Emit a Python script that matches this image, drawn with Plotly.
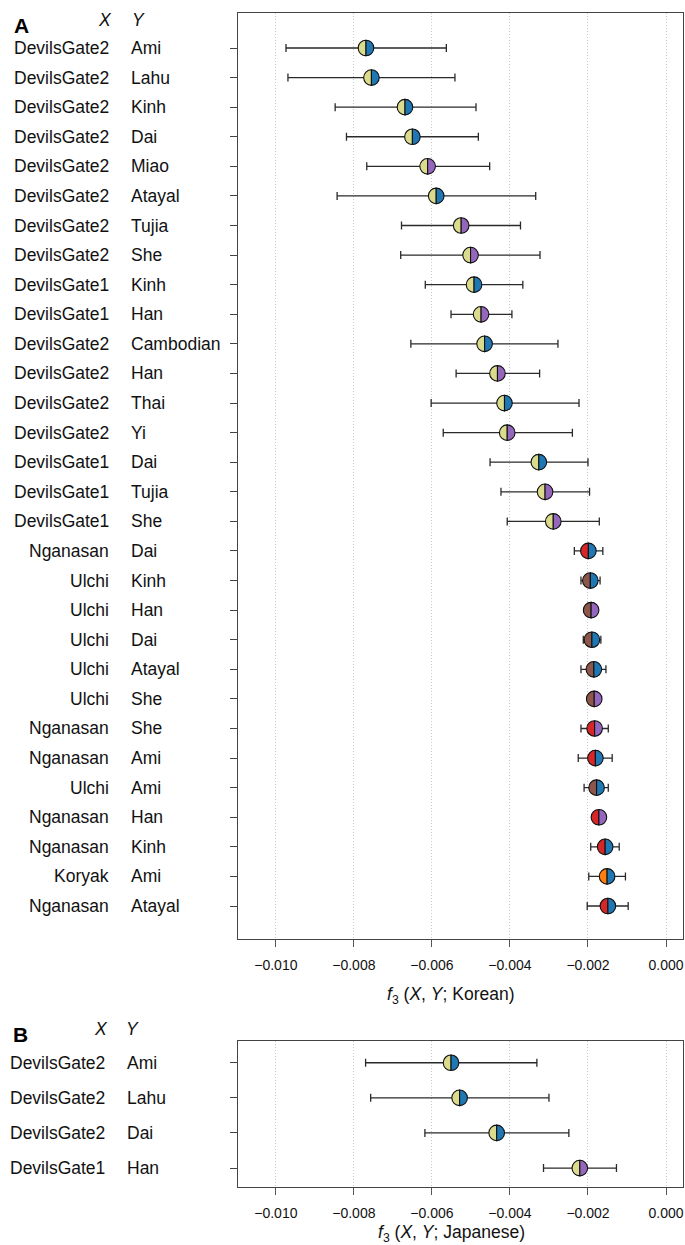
import plotly.graph_objects as go

# ---------------- data ----------------
X_A = ["DevilsGate2", "DevilsGate2", "DevilsGate2", "DevilsGate2", "DevilsGate2",
       "DevilsGate2", "DevilsGate2", "DevilsGate2", "DevilsGate1", "DevilsGate1",
       "DevilsGate2", "DevilsGate2", "DevilsGate2", "DevilsGate2", "DevilsGate1",
       "DevilsGate1", "DevilsGate1", "Nganasan", "Ulchi", "Ulchi",
       "Ulchi", "Ulchi", "Ulchi", "Nganasan", "Nganasan",
       "Ulchi", "Nganasan", "Nganasan", "Koryak", "Nganasan"]
Y_A = ["Ami", "Lahu", "Kinh", "Dai", "Miao",
       "Atayal", "Tujia", "She", "Kinh", "Han",
       "Cambodian", "Han", "Thai", "Yi", "Dai",
       "Tujia", "She", "Dai", "Kinh", "Han",
       "Dai", "Atayal", "She", "She", "Ami",
       "Ami", "Han", "Kinh", "Ami", "Atayal"]
f3_A = [-0.00769, -0.00755, -0.00669, -0.00650, -0.00611,
        -0.00589, -0.00525, -0.00501, -0.00492, -0.00474,
        -0.00465, -0.00432, -0.00414, -0.00407, -0.00326,
        -0.00310, -0.00289, -0.00199, -0.00194, -0.00192,
        -0.00190, -0.00185, -0.00184, -0.00183, -0.00181,
        -0.00178, -0.00172, -0.00156, -0.00151, -0.00149]
lo_A = [-0.00974, -0.00969, -0.00848, -0.00819, -0.00767,
        -0.00843, -0.00678, -0.00680, -0.00617, -0.00551,
        -0.00654, -0.00538, -0.00602, -0.00571, -0.00451,
        -0.00423, -0.00407, -0.00235, -0.00218, -0.00202,
        -0.00212, -0.00218, -0.00194, -0.00218, -0.00225,
        -0.00210, -0.00182, -0.00193, -0.00198, -0.00202]
hi_A = [-0.00563, -0.00541, -0.00487, -0.00481, -0.00452,
        -0.00334, -0.00373, -0.00323, -0.00367, -0.00395,
        -0.00277, -0.00324, -0.00223, -0.00240, -0.00200,
        -0.00196, -0.00171, -0.00162, -0.00169, -0.00182,
        -0.00167, -0.00154, -0.00174, -0.00148, -0.00138,
        -0.00148, -0.00162, -0.00120, -0.00104, -0.00097]

X_B = ["DevilsGate2", "DevilsGate2", "DevilsGate2", "DevilsGate1"]
Y_B = ["Ami", "Lahu", "Dai", "Han"]
f3_B = [-0.00551, -0.00529, -0.00434, -0.00221]
lo_B = [-0.00770, -0.00757, -0.00618, -0.00314]
hi_B = [-0.00331, -0.00300, -0.00249, -0.00127]

x_ticks = [-0.010, -0.008, -0.006, -0.004, -0.002, 0.000]

pop_colors = {
    "DevilsGate1": "#dbdb8d", "DevilsGate2": "#dbdb8d",
    "Nganasan": "#d62728", "Ulchi": "#8c564b", "Koryak": "#ff7f0e",
    "Ami": "#1f77b4", "Lahu": "#1f77b4", "Kinh": "#1f77b4", "Dai": "#1f77b4",
    "Atayal": "#1f77b4", "Cambodian": "#1f77b4", "Thai": "#1f77b4",
    "Miao": "#9467bd", "Tujia": "#9467bd", "She": "#9467bd", "Han": "#9467bd",
    "Yi": "#9467bd",
}

# ---------------- layout geometry ----------------
W, H = 685, 1245
PLOT_L, PLOT_R = 238, 683
A_TOP, A_BOT = 13, 939
B_TOP, B_BOT = 1041, 1187
ML, MR, MT, MB = PLOT_L, W - PLOT_R, A_TOP, H - B_BOT
PW = W - ML - MR
PH = H - MT - MB
FONT = "Liberation Sans, Arial, Helvetica, sans-serif"
XRANGE = [-0.01097, 0.000435]
LAB = 17.5


def px2paper_x(px):
    return (px - ML) / PW


def px2paper_y(py):
    return (H - MB - py) / PH


domA = [(H - MB - A_BOT) / PH, 1.0]
domB = [0.0, (H - MB - B_TOP) / PH]

fig = go.Figure()

shapes = []
annotations = []
R = 7.8
K = 0.5523 * R
left_path = f"M 0,{R} C {-K},{R} {-R},{K} {-R},0 C {-R},{-K} {-K},{-R} 0,{-R} Z"
right_path = f"M 0,{-R} C {K},{-R} {R},{-K} {R},0 C {R},{K} {K},{R} 0,{R} Z"


def add_panel(xs, ys, vals, lo, hi, xa, ya, xlab_px, ylab_px):
    rows = list(range(1, len(vals) + 1))
    fig.add_trace(go.Scatter(
        x=vals, y=rows, mode="markers",
        marker=dict(size=2, color="rgba(0,0,0,0)"),
        error_x=dict(type="data", symmetric=False,
                     array=[h - v for h, v in zip(hi, vals)],
                     arrayminus=[v - l for v, l in zip(vals, lo)],
                     color="#2a2a2a", thickness=1.3, width=4),
        xaxis=xa, yaxis=ya, showlegend=False, hoverinfo="skip"))
    for r, v, xp, yp in zip(rows, vals, xs, ys):
        for path, col in ((left_path, pop_colors[xp]), (right_path, pop_colors[yp])):
            shapes.append(dict(type="path", xref=xa, yref=ya,
                               xsizemode="pixel", ysizemode="pixel",
                               xanchor=v, yanchor=r, path=path,
                               fillcolor=col, line=dict(color="#111111", width=1.1),
                               layer="above"))
        annotations.append(dict(x=px2paper_x(xlab_px), y=r, xref="paper", yref=ya,
                                text=xp, showarrow=False, xanchor="right", yanchor="middle",
                                font=dict(family=FONT, size=LAB, color="#111")))
        annotations.append(dict(x=px2paper_x(ylab_px), y=r, xref="paper", yref=ya,
                                text=yp, showarrow=False, xanchor="left", yanchor="middle",
                                font=dict(family=FONT, size=LAB, color="#111")))


add_panel(X_A, Y_A, f3_A, lo_A, hi_A, "x", "y", 111, 129)
add_panel(X_B, Y_B, f3_B, lo_B, hi_B, "x2", "y2", 107, 125)

# panel letters and column headers
for txt, px, py in [("A", 12, 25), ("B", 11, 1034)]:
    annotations.append(dict(x=px2paper_x(px), y=px2paper_y(py), xref="paper", yref="paper",
                            text=f"<b>{txt}</b>", showarrow=False,
                            xanchor="left", yanchor="middle",
                            font=dict(family=FONT, size=21, color="#000")))
for txt, px, py in [("X", 105, 20), ("Y", 138, 20), ("X", 101, 1029), ("Y", 132, 1029)]:
    annotations.append(dict(x=px2paper_x(px), y=px2paper_y(py), xref="paper", yref="paper",
                            text=f"<i>{txt}</i>", showarrow=False,
                            xanchor="center", yanchor="middle",
                            font=dict(family=FONT, size=LAB, color="#111")))

# axis titles
for txt, py in [("Korean", 995), ("Japanese", 1233)]:
    annotations.append(dict(x=px2paper_x(451), y=px2paper_y(py), xref="paper", yref="paper",
                            text=f"<i>f</i><sub>3</sub> (<i>X</i>, <i>Y</i>; {txt})",
                            showarrow=False, xanchor="center", yanchor="middle",
                            font=dict(family=FONT, size=17.5, color="#111")))

xaxis_common = dict(range=XRANGE, tickvals=x_ticks, tickformat=".3f",
                    ticks="outside", ticklen=7, tickwidth=1.3, tickcolor="#555",
                    showline=True, mirror=True, linecolor="#444", linewidth=1.4,
                    showgrid=True, gridcolor="#c8c8c8", gridwidth=1, griddash="1px,2px",
                    zeroline=False, ticklabelstandoff=6,
                    tickfont=dict(family=FONT, size=14, color="#111"))
yaxis_common = dict(ticks="outside", ticklen=7, tickwidth=1.2, tickcolor="#444",
                    showticklabels=False, showline=True, mirror=True,
                    linecolor="#444", linewidth=1.4, showgrid=False, zeroline=False)

fig.update_layout(
    width=W, height=H, autosize=False,
    margin=dict(l=ML, r=MR, t=MT, b=MB),
    paper_bgcolor="white", plot_bgcolor="white",
    xaxis=dict(anchor="y", domain=[0, 1], **xaxis_common),
    yaxis=dict(anchor="x", domain=domA, range=[31.115, -0.183],
               tickvals=list(range(1, len(f3_A) + 1)), **yaxis_common),
    xaxis2=dict(anchor="y2", domain=[0, 1], **xaxis_common),
    yaxis2=dict(anchor="x2", domain=domB, range=[4.54, 0.38],
                tickvals=list(range(1, len(f3_B) + 1)), **yaxis_common),
    shapes=shapes, annotations=annotations,
    font=dict(family=FONT),
)

fig.write_html("out.html",
               config={"displayModeBar": False},
               post_script="document.body.style.margin='0';document.body.style.overflow='hidden';")
